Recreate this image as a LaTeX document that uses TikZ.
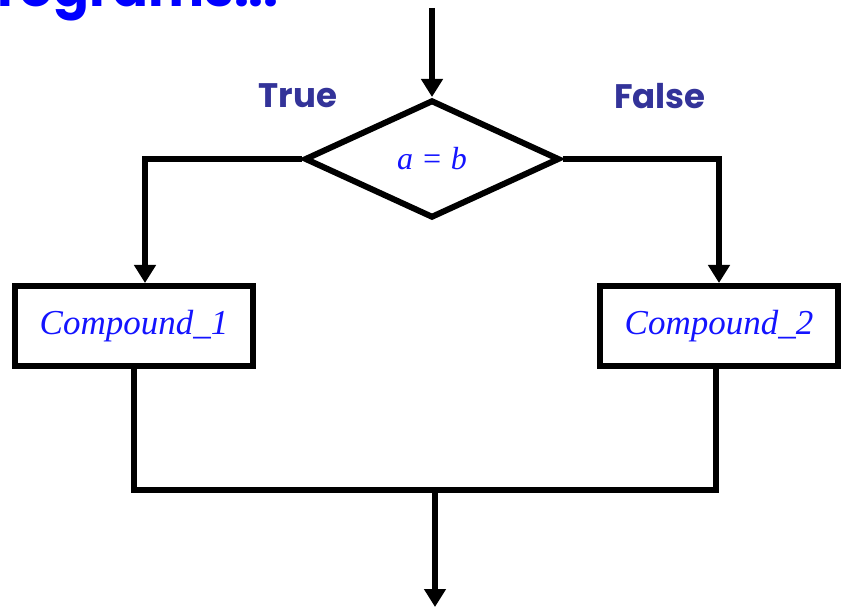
\documentclass[tikz,border=0pt]{standalone}
\usepackage{fontspec}
\setmainfont{Liberation Serif}
\newfontfamily\comic{Poppins}
\usetikzlibrary{arrows.meta,shapes.geometric}
\definecolor{txtblue}{RGB}{20,20,255}
\definecolor{lblblue}{RGB}{51,51,153}
\begin{document}
\begin{tikzpicture}[x=1pt,y=-1pt,
  conn/.style={line width=6pt},
  arr/.style={conn,-{Triangle[width=21pt,length=18pt]}},
  box/.style={draw,line width=6pt,minimum width=238pt,minimum height=80pt,inner sep=0pt,
    font=\itshape\fontsize{35}{35}\selectfont,text=txtblue},
  lbl/.style={font=\comic\bfseries\fontsize{34}{34}\selectfont,text=lblblue,inner sep=0pt}]
\useasboundingbox (0,0) rectangle (843,609);
\clip (0,0) rectangle (843,609);
\node[anchor=base west,inner sep=0pt,font=\comic\bfseries\fontsize{53}{53}\selectfont,text=blue] (title) at (-3,7) {rograms...};
\node[diamond,draw,line width=6pt,minimum width=255pt,minimum height=118pt,aspect=2.16,inner sep=0pt] (cond) at (432,159) {};
\node[font=\itshape\fontsize{32}{32}\selectfont,text=txtblue,inner sep=0pt] (condtxt) at (cond.center) {a = b};
\node[lbl] (true) at (298,96) {True};
\node[lbl] (false) at (660,96) {False};
\node[box] (c1) at (134,326) {Compound\_1};
\node[box] (c2) at (719,326) {Compound\_2};
\coordinate (start) at (432,8);
\coordinate (merge) at (435,490);
\coordinate (end) at (435,607);
\draw[arr] (start) -- (cond.north);
\draw[arr] (cond.west) -| ([xshift=11pt]c1.north);
\draw[arr] (cond.east) -| (c2.north);
\draw[conn] (c1.south) -- (c1.south |- merge) -- ([xshift=-3pt]c2.south |- merge) -- ([xshift=-3pt]c2.south);
\draw[arr] (merge) -- (end);
\end{tikzpicture}
\end{document}
